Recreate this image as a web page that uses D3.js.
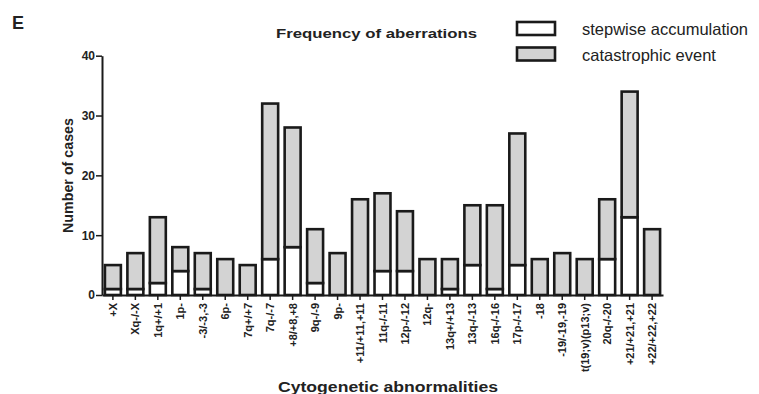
<!DOCTYPE html>
<html>
<head>
<meta charset="utf-8">
<script src="https://cdn.jsdelivr.net/npm/d3@7/dist/d3.min.js"></script>
<style>
  html, body { margin: 0; padding: 0; background: #fff; }
  svg { display: block; font-family: "Liberation Sans", Arial, sans-serif; }
</style>
</head>
<body>
<svg id="chart" width="759" height="394"></svg>
<script>
const categories = ["+X", "Xq-/-X", "1q+/+1", "1p-", "-3/-3,-3", "6p-", "7q+/+7", "7q-/-7",
  "+8/+8,+8", "9q-/-9", "9p-", "+11/+11,+11", "11q-/-11", "12p-/-12", "12q-", "13q+/+13",
  "13q-/-13", "16q-/-16", "17p-/-17", "-18", "-19/-19,-19", "t(19;v)(p13;v)", "20q-/-20",
  "+21/+21,+21", "+22/+22,+22"];
const totals = [5, 7, 13, 8, 7, 6, 5, 32, 28, 11, 7, 16, 17, 14, 6, 6, 15, 15, 27, 6, 7, 6, 16, 34, 11];
const stepwise = [1, 1, 2, 4, 1, 0, 0, 6, 8, 2, 0, 0, 4, 4, 0, 1, 5, 1, 5, 0, 0, 0, 6, 13, 0];
const catastrophic = totals.map((t, i) => t - stepwise[i]);
const seriesNames = ["stepwise accumulation", "catastrophic event"];
const seriesKeys = ["stepwise", "catastrophic"];
const seriesColors = ["#ffffff", "#d3d3d3"];
const yTicks = [0, 10, 20, 30, 40];

const svg = d3.select("#chart");
const ink = "#1a1a1a";

const x = d3.scaleBand().domain(categories).range([102, 663]).paddingInner(0.29).paddingOuter(0.13);
const y = d3.scaleLinear().domain([0, 40]).range([295, 55.7]);

const rows = categories.map((c, i) => ({ cat: c, stepwise: stepwise[i], catastrophic: catastrophic[i] }));
const stacked = d3.stack().keys(seriesKeys)(rows);

// bars
svg.append("g").selectAll("g").data(stacked).join("g")
  .attr("fill", (d, i) => seriesColors[i])
  .selectAll("rect").data(d => d.filter(s => s[1] > s[0])).join("rect")
  .attr("x", d => x(d.data.cat))
  .attr("width", x.bandwidth())
  .attr("y", d => y(d[1]))
  .attr("height", d => y(d[0]) - y(d[1]))
  .attr("stroke", ink).attr("stroke-width", 2.6);

// y axis
const yAxis = svg.append("g").attr("transform", "translate(102,0)")
  .call(d3.axisLeft(y).tickValues(yTicks).tickSize(6).tickPadding(1).tickSizeOuter(0));
yAxis.select(".domain").attr("stroke", ink).attr("stroke-width", 2);
yAxis.selectAll(".tick line").attr("stroke", ink).attr("stroke-width", 1.5);
yAxis.selectAll("text").attr("font-size", 12).attr("font-weight", "bold").attr("fill", "#222")
  .attr("font-family", "Liberation Sans, Arial, sans-serif");

// x axis
const xAxis = svg.append("g").attr("transform", "translate(0,295)")
  .call(d3.axisBottom(x).tickSize(5).tickSizeOuter(0));
xAxis.select(".domain").attr("stroke", ink).attr("stroke-width", 2);
xAxis.selectAll(".tick line").attr("stroke", ink).attr("stroke-width", 1.5);
xAxis.selectAll("text")
  .attr("font-size", 11).attr("font-weight", "bold").attr("fill", "#222")
  .attr("font-family", "Liberation Sans, Arial, sans-serif")
  .attr("text-anchor", "end")
  .attr("dy", null).attr("y", 0)
  .attr("transform", "translate(4,8) rotate(-90)");

// panel letter
svg.append("text").attr("x", 12).attr("y", 29).text("E")
  .attr("font-size", 18).attr("font-weight", "bold").attr("fill", "#222");

// title
svg.append("text").attr("x", 276).attr("y", 38).text("Frequency of aberrations")
  .attr("font-size", 13).attr("font-weight", "bold").attr("fill", "#222")
  .attr("textLength", 201).attr("lengthAdjust", "spacingAndGlyphs");

// y label
svg.append("text").attr("transform", "translate(73,175.5) rotate(-90)")
  .attr("text-anchor", "middle").text("Number of cases")
  .attr("font-size", 14.5).attr("font-weight", "bold").attr("fill", "#222")
  .attr("textLength", 115).attr("lengthAdjust", "spacingAndGlyphs");

// x label
svg.append("text").attr("x", 278).attr("y", 392).text("Cytogenetic abnormalities")
  .attr("font-size", 14).attr("font-weight", "bold").attr("fill", "#222")
  .attr("textLength", 220).attr("lengthAdjust", "spacingAndGlyphs");

// legend
const legend = svg.append("g");
seriesNames.forEach((name, i) => {
  const yy = 22 + i * 25.5;
  legend.append("rect").attr("x", 517).attr("y", yy).attr("width", 38).attr("height", 13)
    .attr("fill", seriesColors[i]).attr("stroke", ink).attr("stroke-width", 2.6);
  legend.append("text").attr("x", 582).attr("y", yy + 13).text(name)
    .attr("font-size", 16.5).attr("fill", "#222");
});
</script>
</body>
</html>
